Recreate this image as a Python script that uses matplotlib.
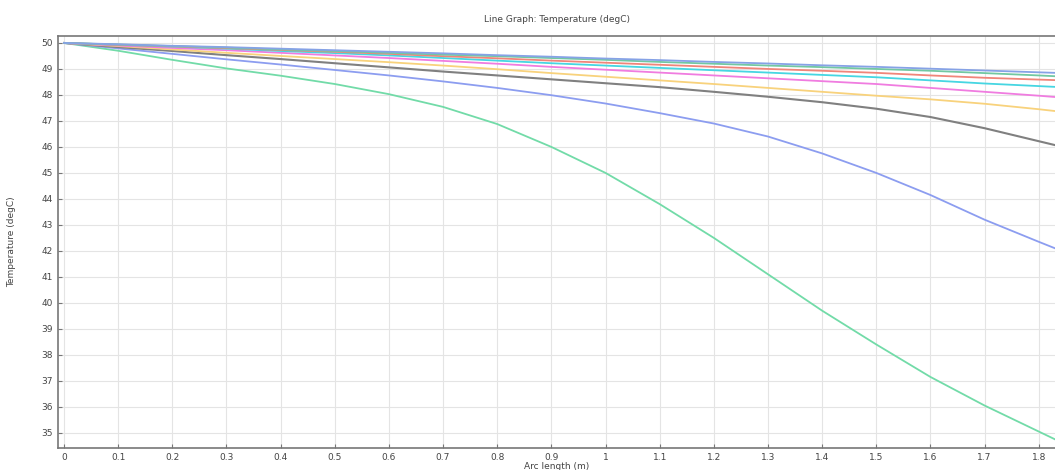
import matplotlib.pyplot as plt

# arc length samples (m)
x_arc = [0, 0.1, 0.2, 0.3, 0.4, 0.5, 0.6, 0.7, 0.8, 0.9, 1.0,
         1.1, 1.2, 1.3, 1.4, 1.5, 1.6, 1.7, 1.8, 1.83]

# temperatures (degC)
t_blue = [50, 49.95, 49.89, 49.84, 49.78, 49.72, 49.66, 49.6, 49.53, 49.47,
          49.4, 49.34, 49.27, 49.21, 49.14, 49.08, 49.01, 48.94, 48.87, 48.85]
t_teal = [50, 49.94, 49.88, 49.82, 49.75, 49.69, 49.62, 49.55, 49.49, 49.42,
          49.35, 49.27, 49.2, 49.13, 49.07, 49.0, 48.93, 48.84, 48.75, 48.72]
t_red = [50, 49.93, 49.87, 49.8, 49.73, 49.66, 49.58, 49.49, 49.41, 49.32,
         49.24, 49.16, 49.08, 49.0, 48.93, 48.85, 48.75, 48.66, 48.59, 48.57]
t_cyan = [50, 49.93, 49.86, 49.78, 49.69, 49.61, 49.52, 49.42, 49.32, 49.22,
          49.13, 49.04, 48.95, 48.86, 48.77, 48.68, 48.56, 48.44, 48.34, 48.31]
t_magenta = [50, 49.9, 49.81, 49.72, 49.62, 49.52, 49.42, 49.31, 49.2, 49.08,
             48.97, 48.86, 48.75, 48.64, 48.53, 48.42, 48.27, 48.12, 47.97, 47.92]
t_yellow = [50, 49.88, 49.75, 49.62, 49.5, 49.38, 49.26, 49.13, 48.99, 48.84,
            48.7, 48.56, 48.42, 48.27, 48.12, 47.97, 47.83, 47.66, 47.45, 47.38]
t_gray = [50, 49.84, 49.69, 49.53, 49.38, 49.22, 49.06, 48.9, 48.75, 48.6,
          48.45, 48.3, 48.12, 47.93, 47.72, 47.47, 47.15, 46.72, 46.22, 46.07]
t_periwinkle = [50, 49.79, 49.58, 49.37, 49.17, 48.96, 48.75, 48.52, 48.27, 47.99,
                47.67, 47.3, 46.9, 46.4, 45.75, 45.0, 44.15, 43.2, 42.35, 42.1]
t_mint = [50, 49.7, 49.35, 49.02, 48.74, 48.42, 48.03, 47.54, 46.88, 46.0,
          45.0, 43.8, 42.5, 41.1, 39.7, 38.4, 37.15, 36.05, 35.05, 34.75]

xticks = [0, 0.1, 0.2, 0.3, 0.4, 0.5, 0.6, 0.7, 0.8, 0.9, 1,
          1.1, 1.2, 1.3, 1.4, 1.5, 1.6, 1.7, 1.8]
xtick_labels = ['0', '0.1', '0.2', '0.3', '0.4', '0.5', '0.6', '0.7', '0.8', '0.9', '1',
                '1.1', '1.2', '1.3', '1.4', '1.5', '1.6', '1.7', '1.8']
yticks = list(range(35, 51))

fig = plt.figure(figsize=(10.55, 4.70), dpi=100)
ax = fig.add_axes([0.055, 0.047, 0.945, 0.876])

txt = '#444444'
ax.plot(x_arc, t_mint, color='#72dba8', lw=1.3)
ax.plot(x_arc, t_periwinkle, color='#8c9df0', lw=1.3)
ax.plot(x_arc, t_gray, color='#808080', lw=1.5)
ax.plot(x_arc, t_yellow, color='#f8d27c', lw=1.3)
ax.plot(x_arc, t_magenta, color='#f07ce0', lw=1.3)
ax.plot(x_arc, t_cyan, color='#46d6e2', lw=1.3)
ax.plot(x_arc, t_red, color='#f0857a', lw=1.3)
ax.plot(x_arc, t_teal, color='#72c8a2', lw=1.3)
ax.plot(x_arc, t_blue, color='#86a2e6', lw=1.3)

ax.set_xlim(-0.011, 1.83)
ax.set_ylim(34.42, 50.26)
ax.set_xticks(xticks)
ax.set_xticklabels(xtick_labels)
ax.set_yticks(yticks)
ax.tick_params(direction='in', length=3, width=0.8, colors='#777777',
               labelcolor=txt, labelsize=6.5, pad=4)
ax.grid(True, color='#e4e4e4', lw=0.8)
ax.set_axisbelow(True)
for s in ['left', 'bottom', 'top']:
    ax.spines[s].set_color('#777777')
    ax.spines[s].set_linewidth(1.2)
ax.spines['right'].set_visible(False)

ax.set_title('Line Graph: Temperature (degC)', fontsize=6.5, color=txt, pad=10)
ax.set_xlabel('Arc length (m)', fontsize=6.5, color=txt, labelpad=0)
ax.set_ylabel('Temperature (degC)', fontsize=6.5, color=txt, labelpad=18)

fig.savefig('out.png', dpi=100)
